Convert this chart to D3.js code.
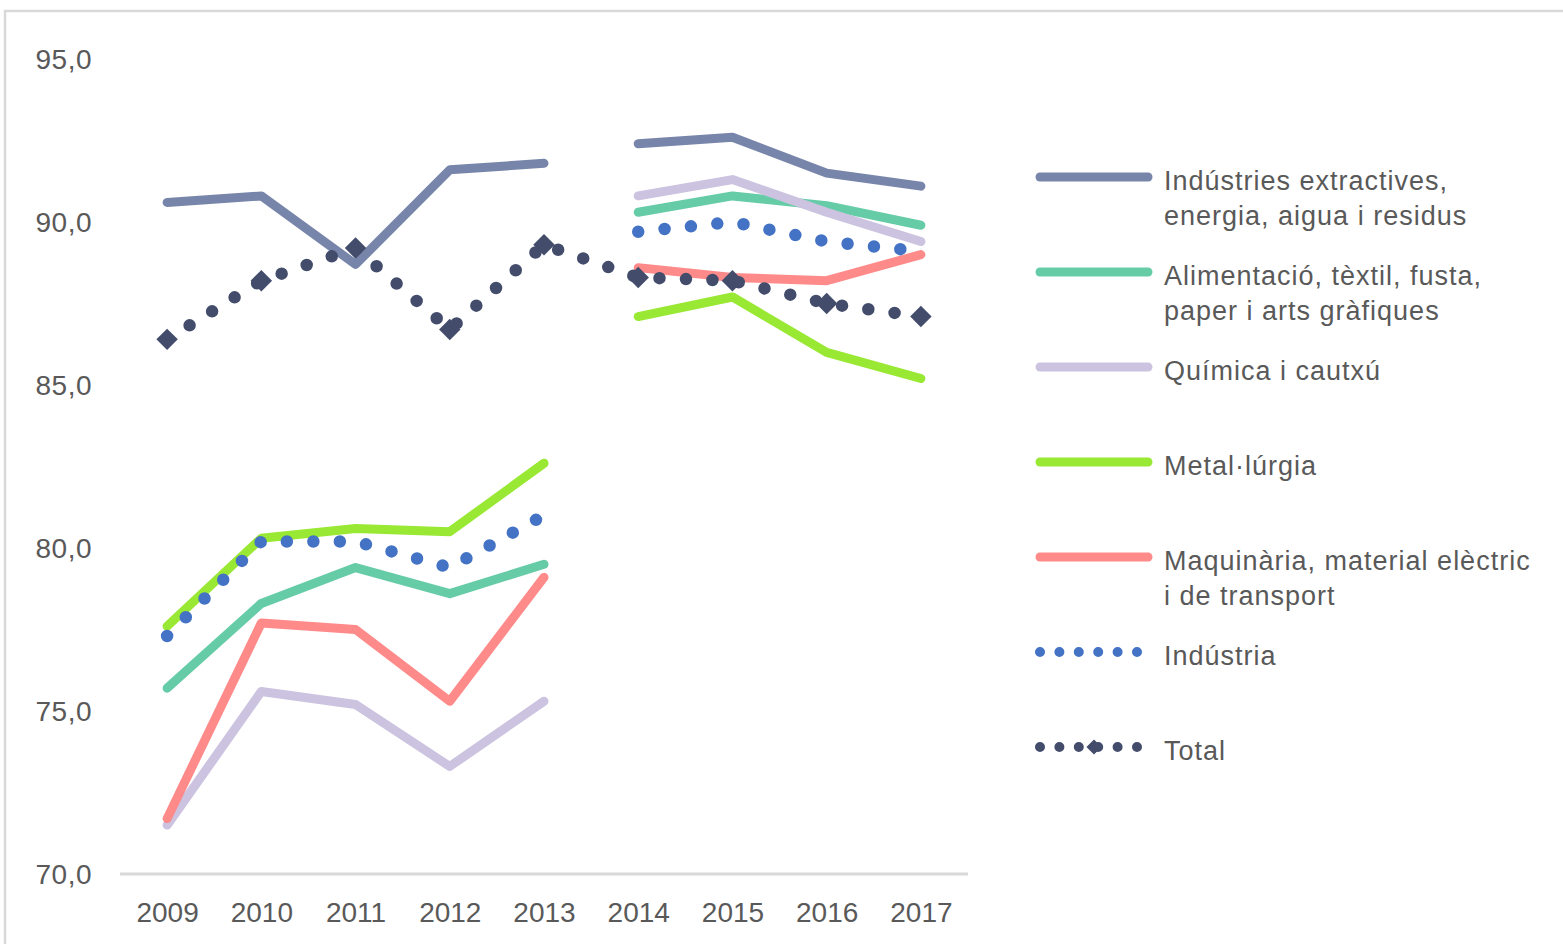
<!DOCTYPE html>
<html>
<head>
<meta charset="utf-8">
<script src="https://cdn.jsdelivr.net/npm/d3@7/dist/d3.min.js"></script>
<style>
  body { margin: 0; background: #fff; }
  text { font-family: "Liberation Sans", Arial, sans-serif; fill: #595959; }
</style>
</head>
<body>
<script>
// dades: anys i series (cada serie te dos trams: 2009-2013 i 2014-2017, excepte el total)
var years = [2009, 2010, 2011, 2012, 2013, 2014, 2015, 2016, 2017];

var extractives = [90.6, 90.8, 88.7, 91.6, 91.8, 92.4, 92.6, 91.5, 91.1];
var alimentacio = [75.7, 78.3, 79.4, 78.6, 79.5, 90.3, 90.8, 90.5, 89.9];
var quimica     = [71.5, 75.6, 75.2, 73.3, 75.3, 90.8, 91.3, 90.3, 89.4];
var metallurgia = [77.6, 80.3, 80.6, 80.5, 82.6, 87.1, 87.7, 86.0, 85.2];
var maquinaria  = [71.7, 77.7, 77.5, 75.3, 79.1, 88.6, 88.3, 88.2, 89.0];
var industria   = [77.3, 80.2, 80.2, 79.4, 81.0, 89.7, 90.0, 89.4, 89.1];
var total       = [86.4, 88.2, 89.2, 86.7, 89.3, 88.3, 88.2, 87.5, 87.1];

var yTicks = [70, 75, 80, 85, 90, 95];

var series = [
  { name: ["Indústries extractives,", "energia, aigua i residus"], values: extractives, color: "#7885AA", type: "solid", split: true },
  { name: ["Alimentació, tèxtil, fusta,", "paper i arts gràfiques"], values: alimentacio, color: "#66CCA8", type: "solid", split: true },
  { name: ["Química i cautxú"], values: quimica, color: "#CBC3DF", type: "solid", split: true },
  { name: ["Metal·lúrgia"], values: metallurgia, color: "#99E833", type: "solid", split: true },
  { name: ["Maquinària, material elèctric", "i de transport"], values: maquinaria, color: "#FF8A8A", type: "solid", split: true },
  { name: ["Indústria"], values: industria, color: "#4472C4", type: "dots", split: true },
  { name: ["Total"], values: total, color: "#434D6B", type: "total", split: false }
];

var w = 1563;
var h = 944;

var svg = d3.select("body").append("svg").attr("width", w).attr("height", h);

// marc gris
svg.append("rect")
  .attr("x", 5).attr("y", 11)
  .attr("width", 1570).attr("height", 1000)
  .attr("fill", "none")
  .attr("stroke", "#D9D9D9")
  .attr("stroke-width", 2.5);

// escales
var xScale = d3.scalePoint()
  .domain(years)
  .range([120, 968])
  .padding(0.5);

var yScale = d3.scaleLinear()
  .domain([70, 95])
  .range([874, 59]);

var fmt = function (d) { return d3.format(".1f")(d).replace(".", ","); };

// eix Y (nomes etiquetes)
var yAxis = d3.axisLeft(yScale).tickValues(yTicks).tickFormat(fmt).tickSize(0).tickPadding(0);
var gy = svg.append("g").attr("transform", "translate(92,0)").call(yAxis);
gy.select(".domain").remove();
gy.selectAll("text")
  .attr("font-size", "28px")
  .attr("dy", "0.35em")
  .attr("letter-spacing", "0.5px")
  .style("font-family", "Liberation Sans, Arial, sans-serif")
  .attr("fill", "#595959");

// eix X
var xAxis = d3.axisBottom(xScale).tickSize(0).tickPadding(0);
var gx = svg.append("g").attr("transform", "translate(0,874)").call(xAxis);
gx.select(".domain").remove();
gx.selectAll("text")
  .attr("font-size", "28px")
  .attr("y", 48)
  .attr("dy", 0)
  .style("font-family", "Liberation Sans, Arial, sans-serif")
  .attr("fill", "#595959");

svg.append("line")
  .attr("x1", 120).attr("x2", 968)
  .attr("y1", yScale(70)).attr("y2", yScale(70))
  .attr("stroke", "#D9D9D9")
  .attr("stroke-width", 3);

var line = d3.line()
  .x(function (d) { return xScale(d.year); })
  .y(function (d) { return yScale(d.value); });

function pts(s) {
  return years.map(function (yr, i) { return { year: yr, value: s.values[i] }; });
}

// dibuixar series
series.forEach(function (s) {
  var all = pts(s);
  var parts = s.split ? [all.slice(0, 5), all.slice(5)] : [all];
  parts.forEach(function (p) {
    var path = svg.append("path")
      .attr("d", line(p))
      .attr("fill", "none")
      .attr("stroke", s.color)
      .attr("stroke-width", 9)
      .attr("stroke-linecap", "round")
      .attr("stroke-linejoin", "round");
    if (s.type !== "solid") {
      path.attr("stroke-width", 12.5).attr("stroke-dasharray", "0 26.5");
    }
  });
  if (s.type === "total") {
    svg.selectAll(".diamond")
      .data(all)
      .enter()
      .append("path")
      .attr("d", d3.symbol().type(d3.symbolSquare).size(230))
      .attr("transform", function (d) {
        return "translate(" + xScale(d.year) + "," + yScale(d.value) + ") rotate(45)";
      })
      .attr("fill", s.color);
  }
});

// llegenda
var legend = svg.append("g").attr("transform", "translate(1040,177)");
series.forEach(function (s, i) {
  var g = legend.append("g").attr("transform", "translate(0," + (i * 95) + ")");
  if (s.type === "solid") {
    g.append("line")
      .attr("x1", 0).attr("x2", 108)
      .attr("stroke", s.color)
      .attr("stroke-width", 9)
      .attr("stroke-linecap", "round");
  } else {
    g.append("line")
      .attr("x1", 0).attr("x2", 97)
      .attr("stroke", s.color)
      .attr("stroke-width", 10)
      .attr("stroke-linecap", "round")
      .attr("stroke-dasharray", "0 19.4");
    if (s.type === "total") {
      g.append("path")
        .attr("d", d3.symbol().type(d3.symbolSquare).size(115))
        .attr("transform", "translate(54,0) rotate(45)")
        .attr("fill", s.color);
    }
  }
  var t = g.append("text")
    .attr("x", 124)
    .attr("y", 13)
    .attr("font-size", "27px")
    .attr("letter-spacing", "1px");
  s.name.forEach(function (ln, j) {
    t.append("tspan").attr("x", 124).attr("dy", j === 0 ? 0 : 35).text(ln);
  });
});
</script>
</body>
</html>
